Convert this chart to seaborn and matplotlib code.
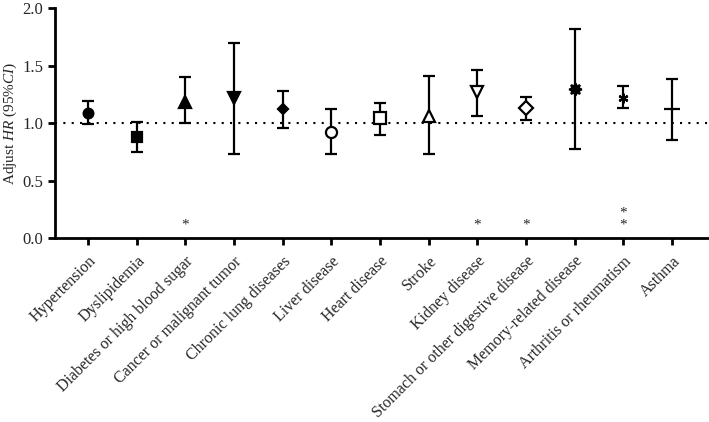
import pandas as pd
import seaborn as sns
import matplotlib.pyplot as plt

diseases = ["Hypertension", "Dyslipidemia", "Diabetes or high blood sugar",
            "Cancer or malignant tumor", "Chronic lung diseases", "Liver disease",
            "Heart disease", "Stroke", "Kidney disease",
            "Stomach or other digestive disease", "Memory-related disease",
            "Arthritis or rheumatism", "Asthma"]
hr = [1.09, 0.88, 1.18, 1.22, 1.12, 0.92, 1.04, 1.06, 1.27, 1.13, 1.30, 1.22, 1.12]
ci_low = [0.99, 0.75, 1.00, 0.73, 0.96, 0.73, 0.90, 0.73, 1.06, 1.03, 0.77, 1.13, 0.85]
ci_high = [1.19, 1.01, 1.40, 1.70, 1.28, 1.12, 1.17, 1.41, 1.46, 1.23, 1.82, 1.32, 1.38]
stars = ["", "", "*", "", "", "", "", "", "*", "*", "", "**", ""]

markers = ["o", "s", "^", "v", "D", "o", "s", "^", "v", "D", (8, 1, 0), (6, 2, 0), "_"]
filled = [True, True, True, True, True, False, False, False, False, False, True, True, True]
msizes = [7, 7, 8, 8, 5, 8, 8, 9, 9, 7, 9, 7, 11]

df = pd.DataFrame({"disease": diseases, "hr": hr, "lo": ci_low, "hi": ci_high})

sns.set_style("ticks")
plt.rcParams["font.family"] = ["Liberation Serif", "DejaVu Serif"]
plt.rcParams["mathtext.fontset"] = "custom"
plt.rcParams["mathtext.rm"] = "Liberation Serif"
plt.rcParams["mathtext.it"] = "Liberation Serif:italic"

fig, ax = plt.subplots(figsize=(7.09, 4.22), dpi=100)
fig.subplots_adjust(left=55 / 709, right=1.0, top=1 - 8 / 422, bottom=1 - 238 / 422)

ax.axhline(1.0, color="black", linestyle=(0, (1, 3)), linewidth=1.5, zorder=1)

for i, row in df.iterrows():
    ax.errorbar(i, row["hr"], yerr=[[row["hr"] - row["lo"]], [row["hi"] - row["hr"]]],
                fmt="none", ecolor="black", elinewidth=1.6, capsize=4, capthick=1.6, zorder=2)
    ax.plot(i, row["hr"], marker=markers[i], markersize=msizes[i], color="black",
            markerfacecolor="black" if filled[i] else "white",
            markeredgewidth=1.6, linestyle="none", zorder=3)
    for k in range(len(stars[i])):
        ax.text(i, 0.115 + 0.1 * k, "*", ha="center", va="center", fontsize=11)

ax.set_xlim(-0.68, 12.76)
ax.set_ylim(0, 2.0)
ax.set_yticks([0, 0.5, 1.0, 1.5, 2.0])
ax.set_yticklabels(["0.0", "0.5", "1.0", "1.5", "2.0"])
ax.set_xticks(range(len(diseases)))
ax.set_xticklabels(diseases, rotation=45, ha="right", rotation_mode="anchor", fontsize=11.5)
ax.set_ylabel("Adjust $HR$ (95%$CI$)", fontsize=11)
ax.yaxis.set_label_coords(-0.055, 0.5)
ax.tick_params(axis="y", labelsize=12)
ax.tick_params(width=2, length=5, color="black")
ax.tick_params(axis="x", pad=6)
sns.despine(ax=ax)
for s in ["left", "bottom"]:
    ax.spines[s].set_linewidth(2)
    ax.spines[s].set_color("black")

fig.savefig("out.png", dpi=100)
